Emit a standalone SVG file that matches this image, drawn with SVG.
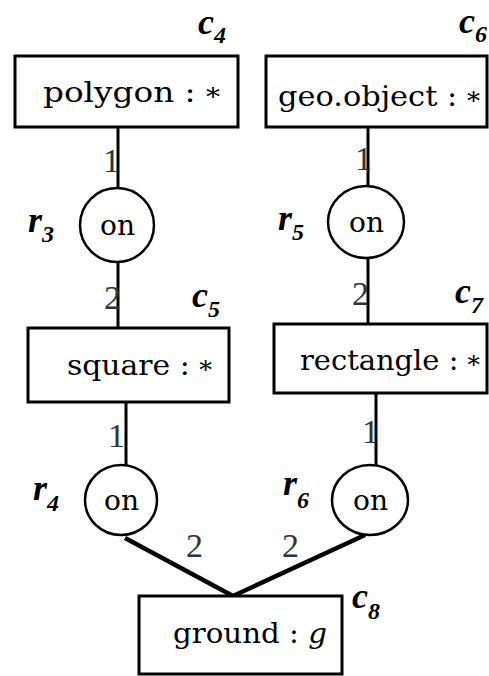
<svg xmlns="http://www.w3.org/2000/svg" width="489" height="676" viewBox="0 0 489 676">
<style>
.box{fill:#fff;stroke:#000;stroke-width:3}
.rel{fill:#fff;stroke:#000;stroke-width:2.5}
.edge{stroke:#000;stroke-width:3;fill:none}
.thick{stroke:#000;stroke-width:4.5;fill:none;stroke-linejoin:miter}
.t{font-size:28px;fill:#000}
.on{font-size:28px;fill:#000}
.lbl{font-size:36px;font-weight:bold;font-style:italic;fill:#000}
.sub{font-size:24px}
.num{font-size:34px;fill:#333}
</style>
<rect width="489" height="676" fill="#fff"/>
<g id="connectors" font-family="Liberation Serif, serif">
  <line class="edge" x1="118" y1="127" x2="118" y2="188"/>
  <line class="edge" x1="118" y1="262" x2="118" y2="328"/>
  <line class="edge" x1="368" y1="127" x2="368" y2="186"/>
  <line class="edge" x1="368" y1="258" x2="368" y2="324"/>
  <line class="edge" x1="126" y1="402" x2="126" y2="465"/>
  <line class="edge" x1="376" y1="393" x2="376" y2="465"/>
  <path class="thick" d="M125 538 L233 596 L365 535"/>
  <text class="num" x="103" y="172">1</text>
  <text class="num" x="104" y="309">2</text>
  <text class="num" x="355" y="170">1</text>
  <text class="num" x="352" y="305">2</text>
  <text class="num" x="108" y="447">1</text>
  <text class="num" x="362" y="443">1</text>
  <text class="num" x="186" y="557">2</text>
  <text class="num" x="282" y="557">2</text>
</g>
<g id="c4">
  <rect class="box" x="15" y="56" width="223" height="71"/>
  <text class="t" font-family="DejaVu Serif, serif" x="43" y="102" textLength="177" lengthAdjust="spacingAndGlyphs">polygon : <tspan dy="3" font-size="24">*</tspan></text>
  <text class="lbl" font-family="Liberation Serif, serif" x="198" y="34">c<tspan class="sub" dy="9">4</tspan></text>
</g>
<g id="c6">
  <rect class="box" x="266" y="56" width="221" height="71"/>
  <text class="t" font-family="DejaVu Serif, serif" x="278" y="106" textLength="202" lengthAdjust="spacingAndGlyphs">geo.object : <tspan dy="3" font-size="24">*</tspan></text>
  <text class="lbl" font-family="Liberation Serif, serif" x="459" y="33">c<tspan class="sub" dy="9">6</tspan></text>
</g>
<g id="r3">
  <ellipse class="rel" cx="117" cy="225" rx="37" ry="37"/>
  <text class="on" font-family="DejaVu Serif, serif" x="100" y="235" textLength="35" lengthAdjust="spacingAndGlyphs">on</text>
  <text class="lbl" font-family="Liberation Serif, serif" x="28" y="232">r<tspan class="sub" dy="10">3</tspan></text>
</g>
<g id="r5">
  <ellipse class="rel" cx="366" cy="222" rx="38" ry="36"/>
  <text class="on" font-family="DejaVu Serif, serif" x="349" y="232" textLength="35" lengthAdjust="spacingAndGlyphs">on</text>
  <text class="lbl" font-family="Liberation Serif, serif" x="278" y="230">r<tspan class="sub" dy="10">5</tspan></text>
</g>
<g id="c5">
  <rect class="box" x="28" y="328" width="201" height="74"/>
  <text class="t" font-family="DejaVu Serif, serif" x="67" y="375" textLength="145" lengthAdjust="spacingAndGlyphs">square : <tspan dy="3" font-size="24">*</tspan></text>
  <text class="lbl" font-family="Liberation Serif, serif" x="192" y="307">c<tspan class="sub" dy="10">5</tspan></text>
</g>
<g id="c7">
  <rect class="box" x="274" y="324" width="213" height="69"/>
  <text class="t" font-family="DejaVu Serif, serif" x="300" y="370" textLength="180" lengthAdjust="spacingAndGlyphs">rectangle : <tspan dy="3" font-size="24">*</tspan></text>
  <text class="lbl" font-family="Liberation Serif, serif" x="455" y="303">c<tspan class="sub" dy="10">7</tspan></text>
</g>
<g id="r4">
  <ellipse class="rel" cx="121" cy="500" rx="36" ry="35"/>
  <text class="on" font-family="DejaVu Serif, serif" x="104" y="510" textLength="35" lengthAdjust="spacingAndGlyphs">on</text>
  <text class="lbl" font-family="Liberation Serif, serif" x="33" y="500">r<tspan class="sub" dy="11">4</tspan></text>
</g>
<g id="r6">
  <ellipse class="rel" cx="370" cy="500" rx="38" ry="35"/>
  <text class="on" font-family="DejaVu Serif, serif" x="353" y="510" textLength="35" lengthAdjust="spacingAndGlyphs">on</text>
  <text class="lbl" font-family="Liberation Serif, serif" x="283" y="495">r<tspan class="sub" dy="13">6</tspan></text>
</g>
<g id="c8">
  <rect class="box" x="139" y="596" width="203" height="78"/>
  <text class="t" font-family="DejaVu Serif, serif" x="173" y="643" textLength="154" lengthAdjust="spacingAndGlyphs">ground : <tspan font-style="italic">g</tspan></text>
  <text class="lbl" font-family="Liberation Serif, serif" x="352" y="608">c<tspan class="sub" dy="11">8</tspan></text>
</g>
</svg>
